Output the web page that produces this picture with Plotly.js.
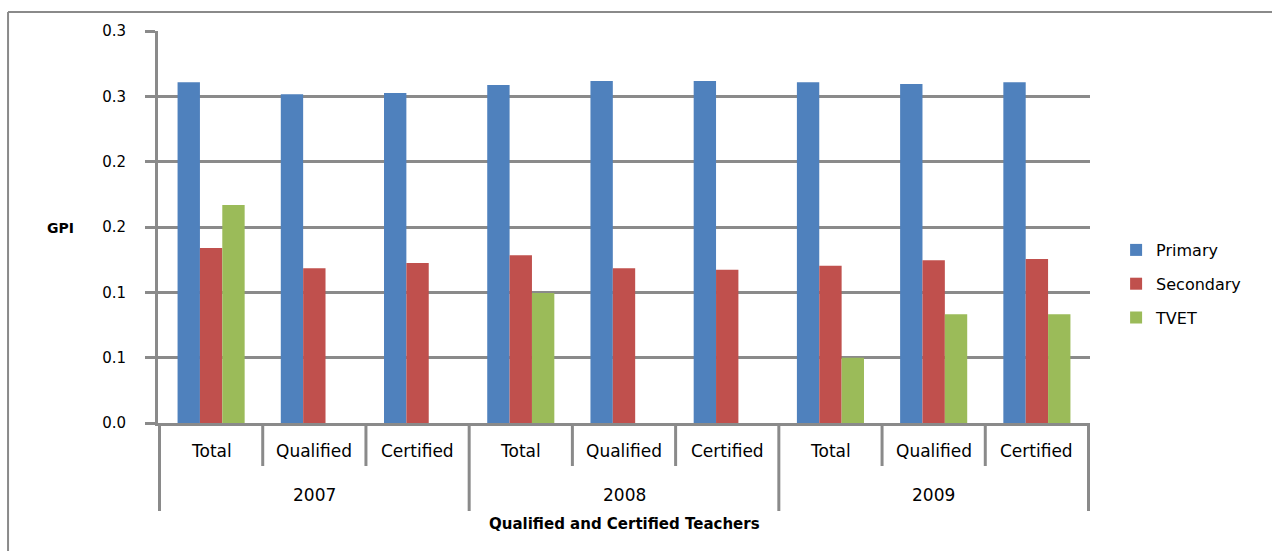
<!DOCTYPE html>
<html>
<head>
<meta charset="utf-8">
<script src="https://cdn.plot.ly/plotly-3.0.1.min.js"></script>
<style>html,body{margin:0;padding:0;background:#fff;}#chart{width:1272px;height:551px;}</style>
</head>
<body>
<div id="chart"></div>
<script>
// ---- data ----
var years = ['2007','2007','2007','2008','2008','2008','2009','2009','2009'];
var teacherTypes = ['Total','Qualified','Certified','Total','Qualified','Certified','Total','Qualified','Certified'];
var primary   = [0.2607, 0.2515, 0.2525, 0.2587, 0.2617, 0.2617, 0.2607, 0.2594, 0.2607];
var secondary = [0.1339, 0.1184, 0.1224, 0.1283, 0.1184, 0.1173, 0.1204, 0.1245, 0.1255];
var tvet      = [0.1668, null, null, 0.0995, null, null, 0.0500, 0.0832, 0.0832];
var seriesNames = ['Primary','Secondary','TVET'];
var yTickVals = [0, 0.05, 0.10, 0.15, 0.20, 0.25, 0.30];
var yTickText = ['0.0','0.1','0.1','0.2','0.2','0.3','0.3'];
var yTitle = 'GPI';
var xTitle = 'Qualified and Certified Teachers';

var colors = ['#4F81BD','#C0504D','#9BBB59'];
var seriesVals = [primary, secondary, tvet];
var FONT = 'DejaVu Sans, Verdana, sans-serif';
var GRID = '#8a8a8a';

var traces = seriesVals.map(function(v,i){
  return {
    type:'bar', name: seriesNames[i], x:[years, teacherTypes], y:v,
    marker:{color:colors[i], line:{width:0}},
    legendgroup:'g'+i, hoverinfo:'skip'
  };
});

var PH = 392; // plot height in px
function py(px){ return (423 - px) / PH; }

var shapes = [];
var annotations = [];
var n = teacherTypes.length;
for (var k = 0; k <= n; k++) {
  var xb = k - 0.5;
  var isYear = (k === 0 || k === n || years[k] !== years[k-1]);
  shapes.push({type:'line', xref:'x', yref:'paper', x0:xb, x1:xb, y0:0, y1: isYear ? py(511) : py(466),
    line:{color:GRID, width:3}, layer:'above'});
}
// inner category labels
for (var i = 0; i < n; i++) {
  annotations.push({text:teacherTypes[i], xref:'x', yref:'paper', x:i, y:py(451), xanchor:'center', yanchor:'middle',
    showarrow:false, font:{size:17, family:FONT, color:'#000'}});
}
// year labels centered on their groups
var start = 0;
for (var j = 1; j <= n; j++) {
  if (j === n || years[j] !== years[start]) {
    annotations.push({text:years[start], xref:'x', yref:'paper', x:(start + j - 1)/2, y:py(495), xanchor:'center', yanchor:'middle',
      showarrow:false, font:{size:17, family:FONT, color:'#000'}});
    start = j;
  }
}
annotations.push({text:'<b>'+yTitle+'</b>', xref:'paper', yref:'paper', x:-0.105, y:py(228), xanchor:'center', yanchor:'middle', showarrow:false, font:{size:14, family:FONT}});
annotations.push({text:'<b>'+xTitle+'</b>', xref:'paper', yref:'paper', x:0.5, y:py(524), xanchor:'center', yanchor:'middle', showarrow:false, font:{size:15, family:FONT}});

// outer frame (left & top)
shapes.push({type:'line', xref:'paper', yref:'paper', x0:-0.1609, x1:-0.1609, y0:py(12), y1:-0.4, line:{color:GRID,width:2}});
shapes.push({type:'line', xref:'paper', yref:'paper', x0:-0.1609, x1:1.25, y0:py(12), y1:py(12), line:{color:GRID,width:2}});

var layout = {
  width:1272, height:551,
  margin:{l:158, r:182, t:31, b:128},
  paper_bgcolor:'#fff', plot_bgcolor:'#fff',
  font:{family:FONT, color:'#000'},
  barmode:'group', bargap:0.35, bargroupgap:0,
  showlegend:true,
  legend:{x:1.028, y:py(284), xanchor:'left', yanchor:'middle', font:{size:16, family:FONT},
    traceorder:'grouped', tracegroupgap:10, bgcolor:'rgba(0,0,0,0)'},
  xaxis:{type:'multicategory', showline:true, linecolor:GRID, linewidth:3,
    showgrid:false, showdividers:false, ticks:'', showticklabels:false, zeroline:false},
  yaxis:{range:[0,0.3], tickvals:yTickVals, ticktext:yTickText, showline:true, linecolor:GRID, linewidth:3,
    showgrid:true, gridcolor:GRID, gridwidth:3, ticks:'outside', ticklen:10, tickcolor:GRID, tickwidth:3,
    tickfont:{size:15, family:FONT}, ticklabelstandoff:16, zeroline:false},
  shapes:shapes,
  annotations:annotations
};

Plotly.newPlot('chart', traces, layout, {displayModeBar:false, staticPlot:true});
</script>
</body>
</html>
